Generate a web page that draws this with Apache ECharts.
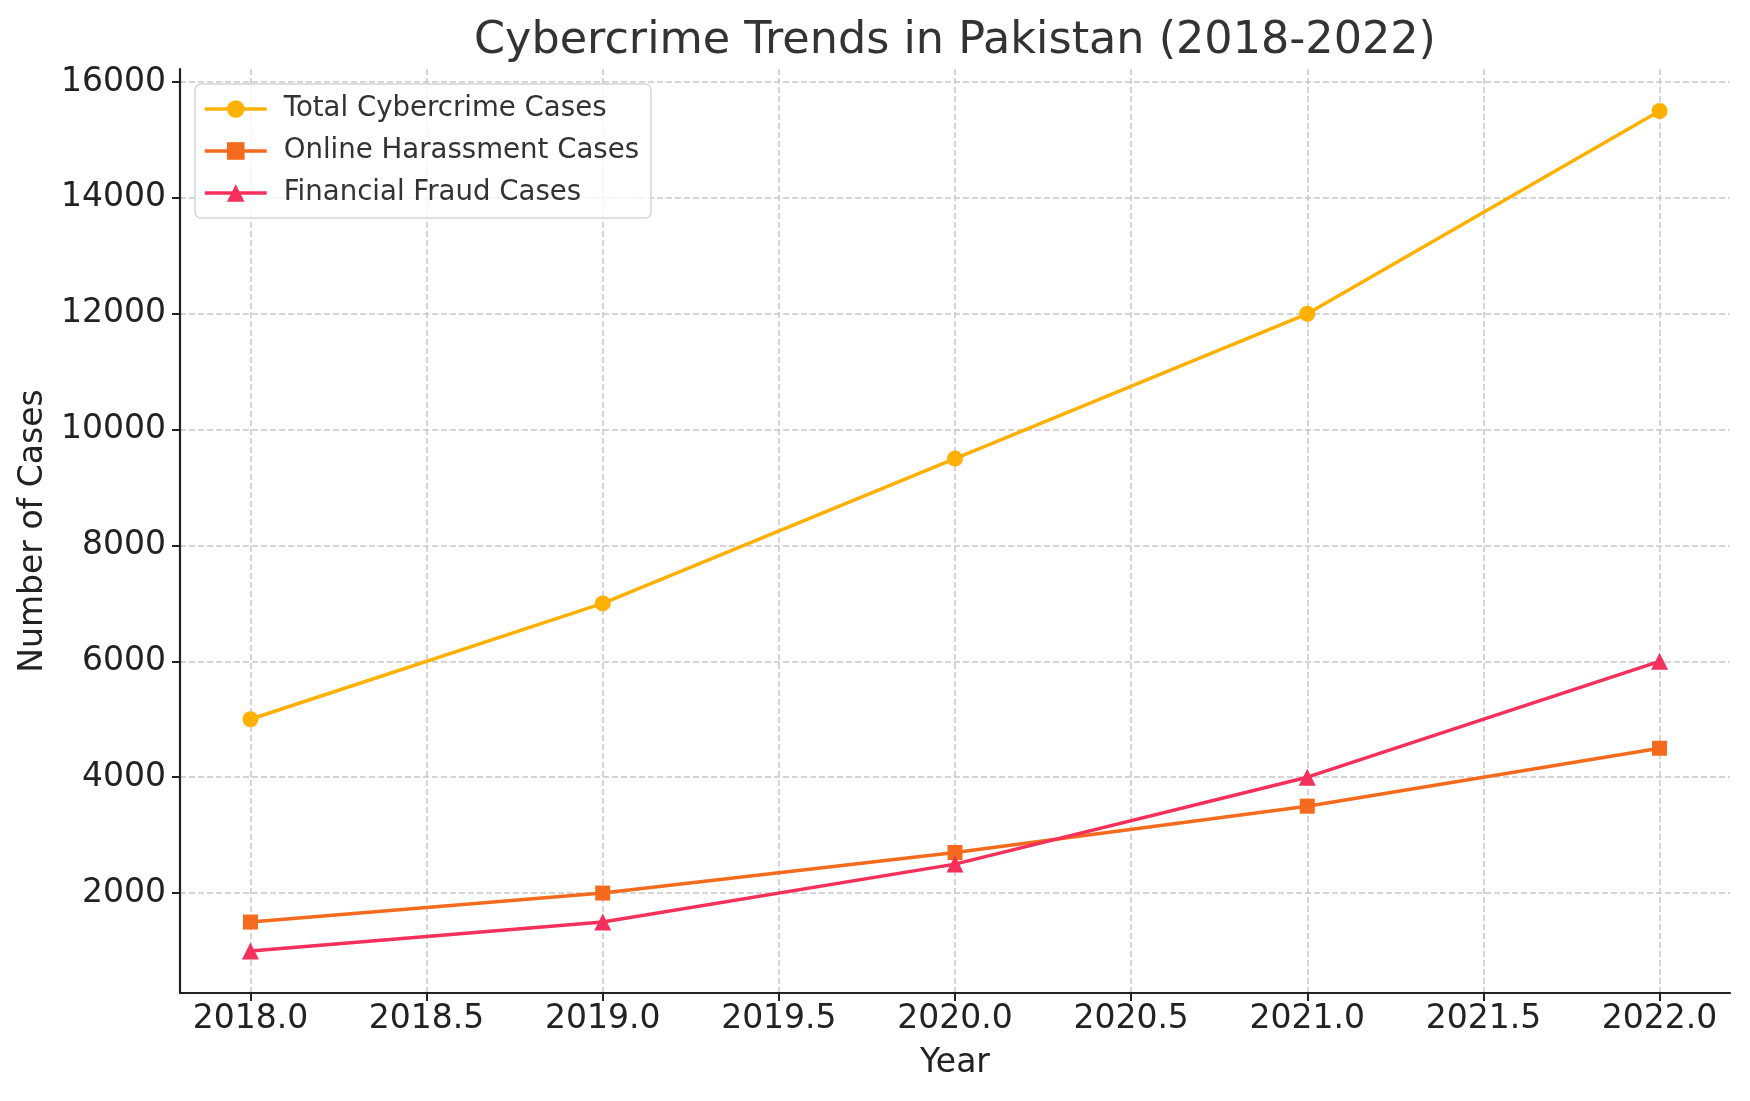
<!DOCTYPE html>
<html>
<head>
<meta charset="utf-8">
<script src="https://cdn.jsdelivr.net/npm/echarts@6/dist/echarts.min.js"></script>
<style>
html,body{margin:0;padding:0;background:#fff;}
#chart{width:1750px;height:1101px;}
</style>
</head>
<body>
<div id="chart"></div>
<script>
const years = [2018, 2019, 2020, 2021, 2022];
const totalCases = [5000, 7000, 9500, 12000, 15500];
const harassmentCases = [1500, 2000, 2700, 3500, 4500];
const fraudCases = [1000, 1500, 2500, 4000, 6000];
const xTicks = [2018.0, 2018.5, 2019.0, 2019.5, 2020.0, 2020.5, 2021.0, 2021.5, 2022.0];
const yTicks = [2000, 4000, 6000, 8000, 10000, 12000, 14000, 16000];
const seriesNames = ['Total Cybercrime Cases', 'Online Harassment Cases', 'Financial Fraud Cases'];

const FONT = 'DejaVu Sans';
const pair = (vals) => years.map((y, i) => [y, vals[i]]);

const chart = echarts.init(document.getElementById('chart'), null, {renderer: 'canvas'});
const gridLine = {show: true, lineStyle: {color: '#c8c8c8', width: 1.5, type: [6, 3]}};
const axisLine = {show: true, onZero: false, lineStyle: {color: '#222', width: 2.2}};

chart.setOption({
  backgroundColor: '#fff',
  animation: false,
  title: {
    text: 'Cybercrime Trends in Pakistan (2018-2022)',
    left: 950, top: 14, textAlign: 'center',
    textStyle: {fontFamily: FONT, fontSize: 44.5, fontWeight: 'normal', color: '#333'}
  },
  grid: {left: 180, right: 20, top: 69, bottom: 108},
  legend: {
    left: 195, top: 84, orient: 'vertical',
    data: seriesNames,
    itemWidth: 62, itemHeight: 22, itemGap: 14,
    padding: [11, 12, 11, 8],
    borderColor: '#d6d6d6', borderWidth: 1.5, borderRadius: 6,
    backgroundColor: 'rgba(255,255,255,0.8)',
    lineStyle: {width: 3.5},
    textStyle: {fontFamily: FONT, fontSize: 27.6, color: '#333', padding: [0, 0, 0, 12]}
  },
  xAxis: {
    type: 'value', min: 2017.8, max: 2022.2,
    name: 'Year', nameLocation: 'middle', nameGap: 54,
    nameTextStyle: {fontFamily: FONT, fontSize: 33, color: '#222'},
    axisLine: axisLine,
    axisTick: {show: true, length: 8, inside: false, customValues: xTicks, lineStyle: {color: '#222', width: 2}},
    axisLabel: {customValues: xTicks, fontFamily: FONT, fontSize: 33, color: '#222', margin: 10,
      formatter: v => Number(v).toFixed(1)},
    splitLine: gridLine
  },
  yAxis: {
    type: 'value', min: 275, max: 16225,
    name: 'Number of Cases', nameLocation: 'middle', nameGap: 128, nameRotate: 90,
    nameTextStyle: {fontFamily: FONT, fontSize: 33, color: '#222'},
    axisLine: axisLine,
    axisTick: {show: true, length: 8, inside: false, customValues: yTicks, lineStyle: {color: '#222', width: 2}},
    axisLabel: {customValues: yTicks, fontFamily: FONT, fontSize: 33, color: '#222', margin: 14,
      formatter: v => String(Math.round(v))},
    splitLine: gridLine
  },
  series: [
    {name: seriesNames[0], type: 'line', data: pair(totalCases), symbol: 'circle', symbolSize: 16,
      itemStyle: {color: '#FFB000'}, lineStyle: {width: 3.5, color: '#FFB000'}, z: 3},
    {name: seriesNames[1], type: 'line', data: pair(harassmentCases), symbol: 'rect', symbolSize: 15,
      itemStyle: {color: '#F46B1E'}, lineStyle: {width: 3.5, color: '#F46B1E'}, z: 4},
    {name: seriesNames[2], type: 'line', data: pair(fraudCases), symbol: 'triangle', symbolSize: 17,
      itemStyle: {color: '#F5305B'}, lineStyle: {width: 3.5, color: '#F5305B'}, z: 5}
  ]
});
</script>
</body>
</html>
